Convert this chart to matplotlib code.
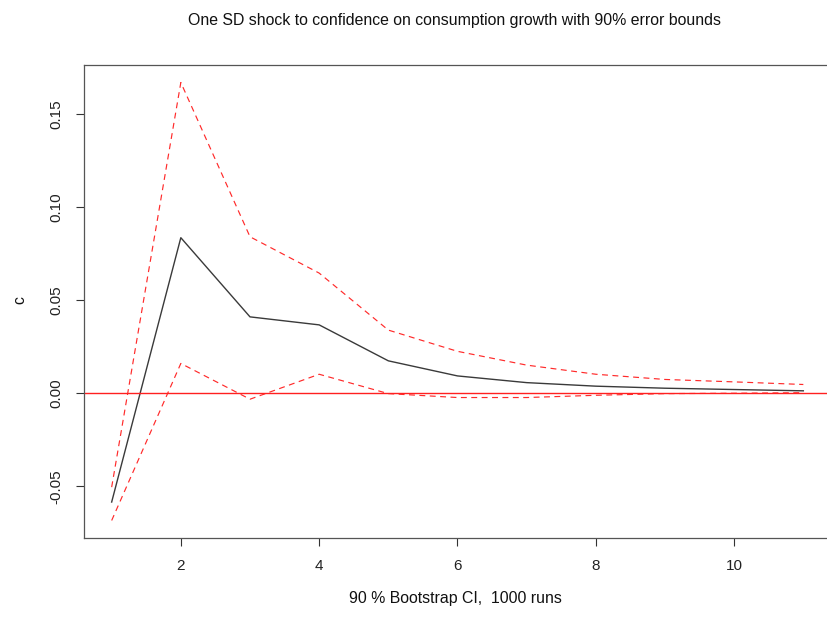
import matplotlib.pyplot as plt
import numpy as np

# impulse response of c to a one SD confidence shock, with bootstrap bounds
horizon = [1, 2, 3, 4, 5, 6, 7, 8, 9, 10, 11]
irf = [-0.0584, 0.0835, 0.0410, 0.0367, 0.0174, 0.0093, 0.0057, 0.0038, 0.0027, 0.0020, 0.0013]
upper = [-0.0504, 0.1668, 0.0840, 0.0645, 0.0339, 0.0225, 0.0151, 0.0102, 0.0074, 0.0061, 0.0047]
lower = [-0.0683, 0.0160, -0.0032, 0.0102, -0.0002, -0.0023, -0.0023, -0.0011, -0.0002, 0.0000, 0.0003]
xticks = [2, 4, 6, 8, 10]
yticks = [-0.05, 0.00, 0.05, 0.10, 0.15]

plt.rcParams['font.family'] = ['Liberation Sans', 'DejaVu Sans']

fig = plt.figure(figsize=(8.27, 6.37), dpi=100)
# axes box runs past the right edge, like the cropped original
ax = fig.add_axes([84 / 827, 1 - 538 / 637, 747 / 827, 473 / 637])

ax.plot(horizon, irf, color='#3a3a3a', lw=1.0)
ax.plot(horizon, upper, color='#ff2a2a', lw=0.85, dashes=(5, 3.8))
ax.plot(horizon, lower, color='#ff2a2a', lw=0.85, dashes=(5, 3.8))
ax.axhline(0, color='#ff2020', lw=1.0)

lo = min(min(lower), min(irf))
hi = max(max(upper), max(irf))
pad = (hi - lo) * 0.04
ax.set_ylim(lo - pad, hi + pad)
ax.set_xlim(1 - 0.4, 11 + 0.4)

ax.set_xticks(xticks)
ax.set_xticklabels([str(t) for t in xticks], fontsize=11, color='#222222')
ax.set_yticks(yticks)
ax.set_yticklabels(['%.2f' % t for t in yticks], fontsize=11, rotation=90, va='center', color='#222222')
ax.tick_params(direction='out', length=6, width=0.8, color='#333333')
ax.tick_params(axis='x', pad=9)
ax.tick_params(axis='y', pad=9)

for s in ax.spines.values():
    s.set_color('#555555')
    s.set_linewidth(0.9)

fig.text(455 / 827, 1 - 20 / 637, 'One SD shock to confidence on consumption growth with 90% error bounds',
         ha='center', va='center', fontsize=11.4, color='#111111')
fig.text(455 / 827, 1 - 598 / 637, '90 % Bootstrap CI,  1000 runs', ha='center', va='center',
         fontsize=11.4, color='#111111')
fig.text(20 / 827, 1 - 300 / 637, 'c', ha='center', va='center', rotation=90, fontsize=11.4, color='#111111')

fig.savefig('out.png', dpi=100)
